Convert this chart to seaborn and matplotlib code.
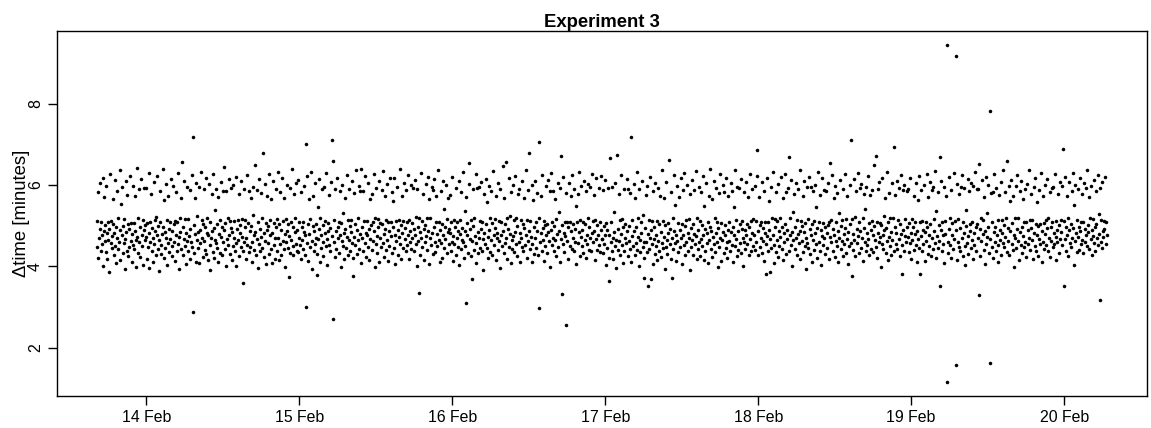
import numpy as np
import pandas as pd
import seaborn as sns
import matplotlib.pyplot as plt
import matplotlib.dates as mdates

# interval between consecutive events, in 1/100 minute, grouped by calendar day
feb13 = [512, 447, 583, 421, 469, 604, 493, 437, 510, 476, 455, 618, 401, 488, 571, 463, 502, 435, 597, 481,
         419, 466, 509, 492, 387, 627, 458, 511, 474, 446, 566, 505, 429, 483, 612, 451, 497, 409, 470, 585,
         520, 442, 461, 636, 489, 415, 553, 478, 594, 432, 499, 457, 517, 394, 468, 609, 484, 438, 575, 503,
         426, 491, 448, 621, 462, 506, 411, 480, 598, 452, 507, 443, 573, 486, 399, 465, 641, 472, 518, 434,
         459, 589, 496, 423, 615, 477, 451, 514, 404, 490, 592, 466, 501]
feb14 = [473, 592, 418, 506, 447, 630, 482, 396, 509, 461, 578, 439, 494, 412, 469, 607, 455, 515, 488, 428,
         521, 476, 621, 443, 500, 465, 389, 586, 509, 452, 431, 479, 639, 496, 420, 562, 485, 445, 603, 470,
         513, 404, 458, 574, 491, 436, 508, 467, 615, 449, 487, 425, 598, 503, 461, 511, 414, 477, 583, 438,
         508, 456, 629, 472, 393, 519, 484, 444, 567, 656, 498, 427, 468, 610, 451, 517, 406, 481, 594, 462,
         437, 517, 474, 588, 419, 492, 459, 624, 448, 718, 287, 501, 433, 568, 479, 412, 606, 466, 523, 485,
         446, 595, 408, 490, 457, 633, 471, 514, 424, 505, 591, 463, 441, 497, 617, 430, 482, 518, 415, 476,
         602, 453, 510, 391, 469, 579, 487, 436, 626, 494, 421, 538, 466, 458, 591, 503, 445, 412, 571, 480,
         515, 434, 608, 473, 497, 427, 586, 460, 643, 489, 442, 507, 401, 586, 468, 520, 452, 614, 478, 431,
         511, 495, 593, 416, 484, 449, 599, 470, 511, 438, 620, 457, 402, 492, 514, 465, 577, 426, 501, 483,
         448, 611, 473, 516, 360, 439, 589, 461, 497, 514, 418, 470, 625, 452, 506, 584, 435, 488, 447, 567,
         499, 412, 460, 596, 526, 476, 441, 650, 485, 429, 588, 467, 510, 397, 614, 454, 493, 437, 580, 472,
         520, 446, 678, 481, 423, 602, 462, 507, 405, 489, 574, 458, 499, 431, 628, 476, 514, 444, 565, 408,
         483, 609, 452, 507, 469, 419, 591, 497, 438, 517, 471, 632, 416, 504, 455, 583, 490, 428, 617, 463,
         511, 442, 569, 479, 399, 517, 460, 601, 487, 445, 504, 374, 475, 593, 433, 508, 466, 640, 451, 496,
         427, 578, 484, 518, 456, 605, 439]
feb15 = [490, 436, 612, 471, 509, 452, 583, 418, 496, 464, 509, 443, 597, 485, 427, 476, 701, 301, 622, 458,
         503, 414, 566, 480, 447, 517, 632, 462, 393, 499, 573, 438, 488, 455, 604, 503, 470, 431, 379, 547,
         468, 615, 492, 410, 518, 477, 445, 589, 502, 459, 426, 594, 483, 511, 449, 630, 467, 404, 506, 488,
         576, 453, 495, 438, 607, 474, 710, 271, 660, 513, 461, 422, 589, 486, 442, 618, 497, 469, 510, 434,
         585, 477, 507, 399, 463, 601, 450, 532, 481, 419, 491, 568, 446, 624, 473, 515, 429, 590, 466, 500,
         439, 513, 484, 457, 611, 420, 377, 472, 580, 504, 452, 636, 489, 431, 518, 465, 597, 444, 479, 585,
         640, 409, 496, 470, 584, 437, 512, 458, 621, 483, 423, 512, 476, 448, 605, 493, 415, 565, 467, 501,
         579, 441, 508, 462, 627, 486, 398, 519, 454, 592, 474, 433, 516, 497, 412, 610, 469, 507, 448, 587,
         505, 457, 634, 480, 424, 572, 492, 440, 515, 603, 466, 413, 508, 487, 451, 618, 475, 509, 433, 583,
         498, 560, 445, 617, 478, 405, 511, 463, 595, 489, 428, 514, 472, 639, 455, 501, 417, 574, 481, 446,
         512, 606, 468, 494, 437, 588, 510, 452, 625, 477, 419, 515, 486, 460, 599, 443, 506, 471, 593, 492,
         439, 612, 478, 455, 521, 402, 591, 497, 462, 335, 518, 484, 427, 629, 470, 512, 448, 578, 493, 416,
         501, 459, 603, 475, 518, 441, 620, 488, 407, 566, 470, 518, 453, 596, 483, 430, 587, 497, 615, 461,
         435, 509, 574, 479, 449, 637, 466, 509, 411, 490, 586, 458, 504, 421, 611, 476, 540, 445, 498, 467,
         600, 432, 516, 485, 568, 454, 493]
feb16 = [482, 575, 437, 508, 461, 620, 474, 413, 513, 456, 497, 593, 428, 469, 510, 486, 448, 611, 403, 479,
         515, 442, 582, 466, 495, 631, 459, 421, 537, 488, 450, 571, 310, 477, 506, 434, 602, 653, 468, 491,
         425, 513, 462, 368, 589, 499, 440, 518, 474, 627, 457, 409, 593, 485, 433, 596, 471, 512, 446, 608,
         492, 438, 508, 467, 391, 579, 481, 455, 614, 503, 445, 559, 473, 420, 598, 489, 518, 436, 585, 464,
         507, 429, 634, 478, 452, 516, 494, 415, 572, 470, 483, 606, 441, 511, 462, 397, 590, 476, 510, 449,
         647, 487, 432, 569, 458, 503, 656, 471, 419, 518, 493, 616, 447, 480, 524, 408, 583, 466, 442, 600,
         474, 513, 435, 622, 485, 456, 520, 499, 426, 577, 460, 591, 483, 411, 514, 471, 609, 448, 505, 437,
         568, 494, 452, 638, 477, 420, 515, 463, 587, 679, 486, 443, 511, 472, 601, 455, 410, 562, 497, 431,
         610, 469, 508, 445, 580, 488, 427, 706, 298, 519, 459, 574, 481, 437, 624, 495, 466, 511, 414, 502,
         450, 597, 476, 503, 433, 613, 484, 462, 585, 398, 490, 630, 453, 510, 470, 586, 439, 499, 465, 566,
         425, 517, 479, 604, 447, 533, 487, 412, 593, 468, 670, 333, 501, 456, 619, 482, 435, 509, 474, 581,
         255, 463, 510, 496, 418, 606, 451, 509, 488, 573, 444, 625, 470, 504, 437, 590, 492, 461, 548, 405,
         508, 579, 457, 484, 632, 426, 514, 473, 598, 449, 490, 509, 432, 611, 466, 503, 421, 585, 478, 455,
         520, 603, 441, 496, 594, 470, 437, 627, 483, 512, 459, 576, 487, 416, 515, 468, 618, 440, 501, 476,
         593, 453, 510, 435, 622, 489, 467]
feb17 = [468, 587, 432, 499, 455, 612, 477, 404, 507, 446, 490, 593, 421, 476, 363, 667, 459, 508, 437, 596,
         471, 418, 534, 484, 449, 604, 465, 397, 674, 493, 441, 578, 462, 515, 428, 625, 480, 453, 517, 409,
         496, 591, 438, 470, 504, 457, 615, 486, 425, 591, 463, 500, 444, 580, 719, 412, 474, 513, 451, 603,
         487, 429, 567, 458, 496, 633, 440, 473, 519, 401, 589, 466, 435, 508, 482, 611, 448, 527, 459, 420,
         372, 494, 576, 461, 436, 598, 353, 479, 514, 443, 620, 470, 489, 370, 512, 455, 407, 585, 467, 498,
         431, 606, 476, 450, 511, 416, 593, 463, 505, 439, 574, 484, 422, 637, 458, 512, 446, 569, 472, 394,
         501, 448, 607, 465, 430, 506, 481, 661, 454, 493, 417, 582, 469, 372, 518, 442, 624, 486, 457, 551,
         476, 413, 597, 462, 507, 435, 570, 490, 448, 618, 469, 504, 405, 588, 478, 452, 629, 499, 427, 514,
         460, 601, 483, 438, 516, 471, 392, 579, 495, 447, 613, 466, 505, 429, 588, 480, 454, 634, 474, 419,
         519, 489, 443, 596, 461, 511, 426, 583, 468, 502, 451, 622, 477, 415, 548, 493, 437, 605, 482, 458,
         510, 408, 574, 464, 497, 639, 444, 486, 423, 566, 472, 610, 455, 519, 436, 592, 481, 460, 510, 399,
         494, 581, 447, 471, 628, 413, 507, 466, 599, 485, 432, 583, 476, 502, 445, 617, 459, 421, 572, 490,
         463, 509, 438, 604, 484, 452, 586, 497, 411, 546, 478, 636, 449, 513, 468, 425, 594, 487, 440, 592,
         505, 457, 615, 433, 491, 512, 470, 402, 583, 461, 489, 443, 608, 476, 503, 455, 571, 498, 428, 627,
         467, 512, 439, 590, 483, 451, 517]
feb18 = [476, 598, 441, 512, 459, 623, 685, 486, 427, 570, 501, 448, 509, 470, 607, 433, 494, 462, 585, 414,
         482, 508, 455, 382, 616, 475, 508, 439, 561, 490, 386, 467, 594, 446, 520, 478, 631, 453, 409, 517,
         497, 435, 582, 464, 511, 424, 603, 487, 451, 520, 472, 619, 443, 498, 416, 567, 481, 460, 627, 505,
         430, 583, 490, 468, 593, 437, 669, 476, 519, 452, 612, 484, 401, 533, 465, 578, 496, 442, 604, 470,
         513, 428, 589, 479, 457, 636, 488, 419, 512, 463, 500, 574, 436, 485, 609, 450, 507, 393, 471, 596,
         458, 517, 445, 620, 492, 431, 594, 478, 504, 412, 584, 466, 511, 440, 601, 483, 455, 547, 420, 495,
         633, 461, 510, 437, 575, 489, 404, 617, 474, 506, 452, 588, 469, 496, 430, 586, 482, 446, 605, 501,
         418, 509, 473, 654, 459, 514, 625, 438, 492, 569, 477, 423, 597, 463, 508, 449, 580, 486, 410, 531,
         471, 612, 444, 499, 462, 513, 426, 591, 480, 455, 627, 494, 434, 516, 468, 572, 407, 485, 450, 600,
         503, 458, 710, 377, 517, 479, 440, 614, 466, 521, 425, 586, 492, 457, 629, 474, 509, 432, 593, 487,
         446, 603, 470, 518, 414, 579, 495, 461, 540, 438, 596, 481, 452, 622, 467, 506, 428, 575, 490, 443,
         512, 588, 476, 435, 650, 499, 465, 670, 447, 509, 421, 590, 483, 459, 608, 472, 506, 398, 501, 456,
         617, 478, 444, 524, 489, 569, 433, 495, 462, 632, 508, 416, 581, 473, 450, 519, 484, 427, 604, 466,
         520, 693, 437, 497, 576, 455, 481, 611, 443, 514, 468, 593, 426, 505, 479, 624, 452, 381, 587, 490,
         437, 600, 474, 516, 461, 586, 498]
feb19 = [472, 591, 436, 507, 458, 616, 483, 419, 516, 465, 498, 573, 441, 479, 508, 452, 604, 488, 412, 563,
         467, 621, 445, 381, 509, 475, 588, 437, 512, 490, 456, 599, 413, 484, 510, 462, 627, 496, 430, 571,
         478, 449, 608, 503, 425, 587, 469, 594, 442, 516, 487, 634, 458, 420, 535, 474, 582, 446, 501, 463,
         669, 351, 490, 611, 438, 509, 476, 455, 596, 408, 512, 480, 574, 945, 115, 461, 434, 619, 493, 519,
         453, 421, 587, 477, 506, 443, 630, 468, 511, 916, 158, 489, 415, 602, 460, 517, 448, 578, 495, 437,
         595, 471, 624, 426, 510, 482, 593, 451, 403, 538, 499, 457, 615, 474, 431, 584, 486, 504, 445, 606,
         466, 509, 418, 597, 481, 452, 632, 497, 437, 590, 505, 470, 589, 330, 652, 491, 425, 518, 462, 613,
         479, 513, 441, 570, 488, 405, 619, 455, 532, 473, 496, 601, 434, 782, 164, 467, 581, 448, 509, 421,
         583, 485, 627, 459, 498, 439, 592, 476, 515, 452, 410, 576, 490, 466, 608, 429, 514, 483, 457, 636,
         501, 447, 583, 472, 519, 660, 435, 494, 462, 597, 427, 561, 487, 613, 454, 506, 441, 574, 478, 399,
         520, 469, 598, 446, 492, 625, 463, 519, 415, 584, 484, 452, 610, 497, 433, 566, 475, 509, 448, 591,
         461, 510, 422, 603, 489, 456, 637, 471, 514, 440, 579, 495, 464, 515, 417, 596, 482, 450, 617, 503,
         437, 558, 476, 499, 426, 588, 468, 505, 455, 629, 486, 412, 572, 461, 507, 444, 601, 479, 513, 453,
         494, 614, 438, 518, 470, 583, 424, 497, 462, 592, 508, 447, 595, 481, 456, 626, 473, 416, 511, 489,
         459, 577, 501, 432, 608, 467, 514]
feb20 = [484, 597, 452, 688, 352, 511, 468, 620, 439, 496, 573, 477, 425, 518, 489, 608, 458, 503, 447, 585,
         470, 629, 494, 403, 552, 462, 601, 481, 514, 436, 590, 473, 498, 441, 617, 487, 510, 456, 579, 466,
         509, 432, 604, 492, 461, 593, 478, 636, 450, 501, 484, 571, 443, 519, 467, 598, 490, 427, 517, 475,
         612, 458, 497, 438, 586, 505, 471, 624, 452, 529, 480, 318, 593, 461, 514, 446, 607, 487, 472, 511,
         493, 619, 455, 508, 478]

first_event = pd.Timestamp("2014-02-13 16:15")
title = "Experiment 3"
y_label = "\u0394time [minutes]"

delta = np.concatenate([feb13, feb14, feb15, feb16, feb17, feb18, feb19, feb20]) / 100.0
elapsed = np.cumsum(delta) - delta[0]
df = pd.DataFrame({
    "time": first_event + pd.to_timedelta(elapsed, unit="min"),
    "delta": delta,
})

sns.set_theme(style="ticks")
plt.rcParams["font.family"] = ["Liberation Sans", "DejaVu Sans"]
plt.rcParams["axes.edgecolor"] = "black"
plt.rcParams["text.color"] = "black"
plt.rcParams["axes.labelcolor"] = "black"
plt.rcParams["xtick.color"] = "black"
plt.rcParams["ytick.color"] = "black"

fig = plt.figure(figsize=(11.51, 4.28), dpi=100)
ax = fig.add_axes([0.0491, 0.0748, 0.9474, 0.8528])

sns.scatterplot(data=df, x="time", y="delta", s=6.5, color="black",
                linewidth=0, ax=ax, legend=False)

# R-style 4% padding around the data range
t_min, t_max = df["time"].min(), df["time"].max()
t_pad = (t_max - t_min) * 0.04
ax.set_xlim(t_min - t_pad, t_max + t_pad)
y_min, y_max = df["delta"].min(), df["delta"].max()
y_pad = (y_max - y_min) * 0.04
ax.set_ylim(y_min - y_pad, y_max + y_pad)

ax.xaxis.set_major_locator(mdates.DayLocator())
ax.xaxis.set_major_formatter(mdates.DateFormatter("%d %b"))
ax.set_yticks([2, 4, 6, 8])

for side in ["left", "right", "top", "bottom"]:
    ax.spines[side].set_visible(True)
    ax.spines[side].set_linewidth(1.0)
    ax.spines[side].set_color("black")

ax.tick_params(axis="both", direction="out", length=6.5, width=1.0,
               labelsize=11.4, colors="black")
ax.tick_params(axis="x", pad=3.6)
ax.tick_params(axis="y", pad=3.2, labelrotation=90)
for lbl in ax.get_yticklabels():
    lbl.set_va("center")

ax.set_xlabel("")
ax.set_ylabel(y_label, fontsize=13.3)
ax.yaxis.set_label_coords(-0.0245, 0.5)
ax.set_title(title, fontsize=13.3, fontweight="bold", pad=3)
ax.grid(False)

plt.savefig("out.png", dpi=100)
plt.close()
